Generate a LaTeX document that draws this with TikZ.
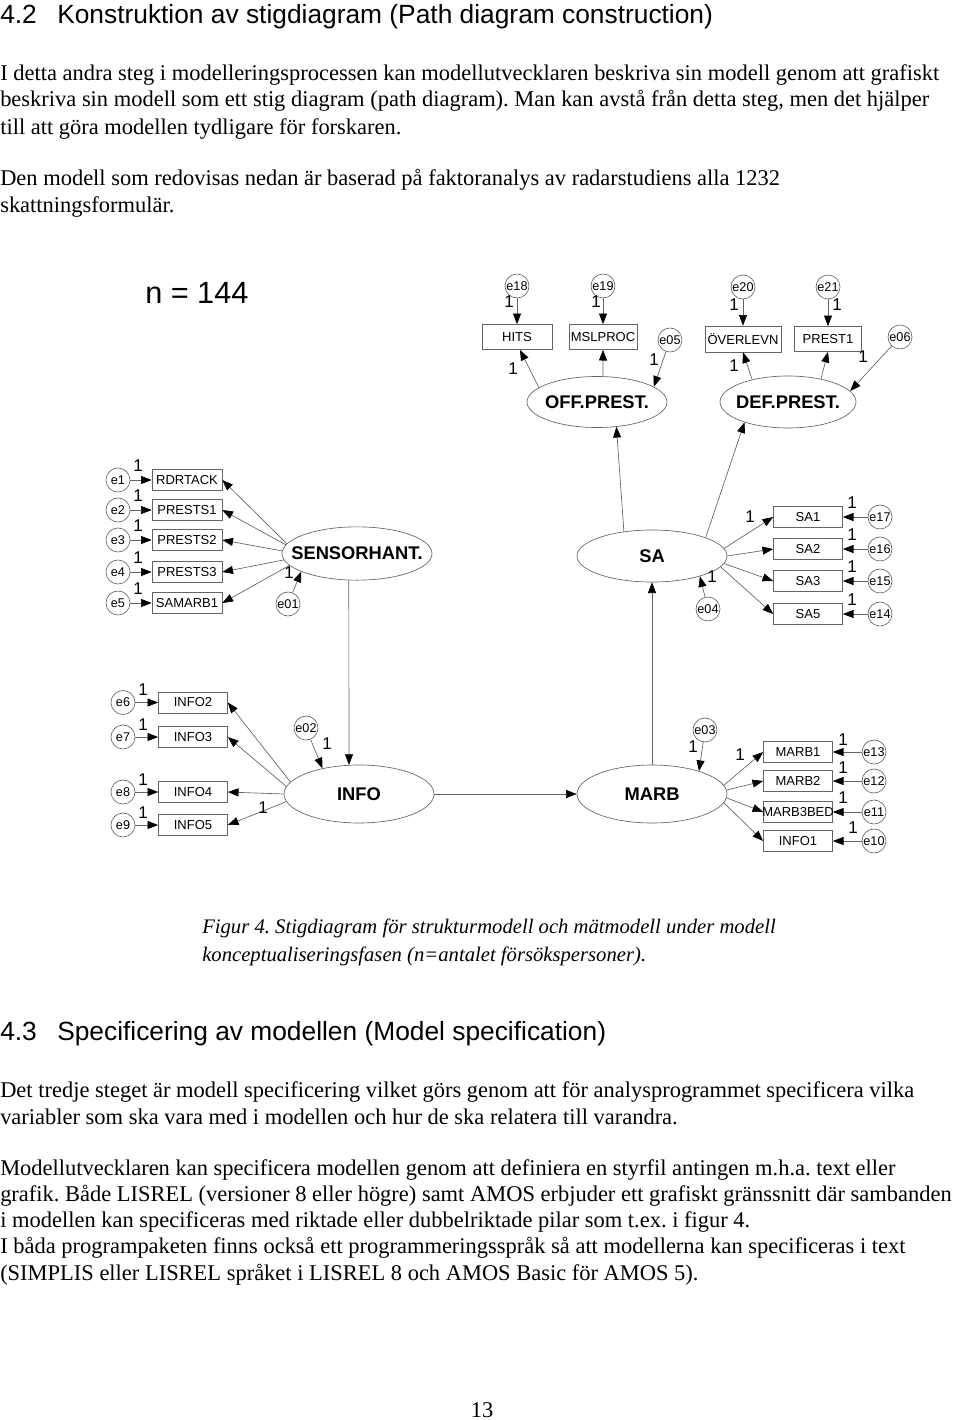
\documentclass[tikz,border=0pt]{standalone}
\usepackage{fontspec}
\setmainfont{Liberation Serif}
\setsansfont{Liberation Sans}
\usetikzlibrary{arrows.meta,shapes.geometric}
\definecolor{lc}{RGB}{100,100,100}
\newcommand\zw[1]{\makebox[0pt]{#1}}
\frenchspacing
\begin{document}
\begin{tikzpicture}[x=0.75pt,y=-0.75pt,
  ln/.style={draw=lc, line width=0.5pt},
  arr/.style={ln, -{Triangle[length=8pt,width=6pt,color=black]}},
  obs/.style={draw=lc, line width=0.5pt, rectangle, inner sep=0pt, minimum width=51.75pt, minimum height=16pt, font=\sffamily\fontsize{9.75}{10}\selectfont},
  err/.style={draw=lc, line width=0.5pt, circle, inner sep=0pt, minimum size=18pt, font=\sffamily\fontsize{9.5}{10}\selectfont},
  lat/.style={draw=lc, line width=0.5pt, ellipse, inner sep=0pt, minimum width=112.5pt, minimum height=43.5pt, font=\sffamily\bfseries\fontsize{13.75}{15}\selectfont},
  one/.style={font=\sffamily\fontsize{12.75}{13}\selectfont, inner sep=0pt},
  body/.style={anchor=base west, inner sep=0pt, font=\fontsize{16.85}{20}\selectfont},
  capt/.style={anchor=base west, inner sep=0pt, font=\itshape\fontsize{15.5}{19.5}\selectfont},
  head/.style={anchor=base west, inner sep=0pt, font=\sffamily\fontsize{19.75}{22}\selectfont},
]
\fill[white] (0,0) rectangle (960,1420);
\useasboundingbox (0,0) rectangle (960,1420);

% ---------- text ----------
\node[head] (h1a) at (0,24) {4.2};
\node[head] (h1b) at (57,24) {Konstruktion av stigdiagram (Path diagram construction)};
\node[body] (p1) at (0,80) {I detta andra steg i modelleringsprocessen kan modellutvecklaren beskriva sin modell genom att grafiskt};
\node[body] (p2) at (0,107) {beskriva sin modell som ett stig diagram (path diagram). Man kan avstå från detta steg, men det hjälper};
\node[body] (p3) at (0,134) {till att göra modellen tydligare för forskaren.};
\node[body] (p4) at (0,185) {Den modell som redovisas nedan är baserad på faktoranalys av radarstudiens alla 1232};
\node[body] (p5) at (0,212) {skattningsformulär.};
\node[capt] (c1) at (202,933) {Figur 4. Stigdiagram för strukturmodell och mätmodell under modell};
\node[capt] (c2) at (202,961) {konceptualiseringsfasen (n=antalet försökspersoner).};
\node[head] (h2a) at (0,1040) {4.3};
\node[head] (h2b) at (57,1040) {Specificering av modellen (Model specification)};
\node[body] (q1) at (0,1097) {Det tredje steget är modell specificering vilket görs genom att för analysprogrammet specificera vilka};
\node[body] (q2) at (0,1124) {variabler som ska vara med i modellen och hur de ska relatera till varandra.};
\node[body] (q3) at (0,1175) {Modellutvecklaren kan specificera modellen genom att definiera en styrfil antingen m.h.a. text eller};
\node[body] (q4) at (0,1201) {grafik. Både LISREL (versioner 8 eller högre) samt AMOS erbjuder ett grafiskt gränssnitt där sambanden};
\node[body] (q5) at (0,1227) {i modellen kan specificeras med riktade eller dubbelriktade pilar som t.ex. i figur 4.};
\node[body] (q6) at (0,1253) {I båda programpaketen finns också ett programmeringsspråk så att modellerna kan specificeras i text};
\node[body] (q7) at (0,1280) {(SIMPLIS eller LISREL språket i LISREL 8 och AMOS Basic för AMOS 5).};
\node[anchor=base, inner sep=0pt, font=\fontsize{16.85}{20}\selectfont] (pg) at (482,1417) {13};

\node[anchor=base west, inner sep=0pt, font=\sffamily\fontsize{23}{25}\selectfont] (n144) at (145,303) {n = 144};

% ---------- top ----------
\node[err] (e18) at (517,286) {\zw{e18}};
\node[err] (e19) at (603,286) {\zw{e19}};
\node[err] (e20) at (743,287) {\zw{e20}};
\node[err] (e21) at (828,287) {\zw{e21}};
\node[obs, minimum width=52.5pt, minimum height=18.75pt] (hits) at (517,337) {\zw{HITS}};
\node[obs, minimum width=51pt, minimum height=18.75pt] (msl) at (603,337) {\zw{MSLPROC}};
\node[obs, minimum width=57pt, minimum height=19.5pt] (ovr) at (743,339) {\zw{ÖVERLEVN}};
\node[obs, minimum width=50.25pt, minimum height=18.75pt] (pr1) at (828,339) {\zw{PREST1}};
\node[err] (e05) at (670,340) {\zw{e05}};
\node[err] (e06) at (900,337) {\zw{e06}};
\node[lat, minimum width=105pt, minimum height=38.25pt] (off) at (597,402) {\zw{OFF.PREST.}};
\node[lat, minimum width=102pt, minimum height=39pt] (def) at (788,402) {\zw{DEF.PREST.}};

\draw[arr] (e18) -- (hits);
\draw[arr] (e19) -- (msl);
\draw[arr] (e20) -- (ovr);
\draw[arr] (e21) -- (pr1);
\draw[arr] (off.166) -- (hits.283);
\draw[arr] (off.77) -- (msl.south);
\draw[arr] (e05) -- (off.15);
\draw[arr] (def.148) -- (ovr.south);
\draw[arr] (def.35) -- (pr1.south);
\draw[arr] (e06) -- (def.10);

\node[one] (o18) at (509,302) {1};
\node[one] (o19) at (596,302) {1};
\node[one] (o20) at (734,305) {1};
\node[one] (o21) at (837,305) {1};
\node[one] (ohits) at (513,369) {1};
\node[one] (oe05) at (654,360) {1};
\node[one] (oovr) at (734,366) {1};
\node[one] (oe06) at (863,357) {1};

% ---------- sensorhant ----------
\node[lat, minimum width=112.5pt, minimum height=40pt] (sens) at (357,553.5) {\zw{SENSORHANT.}};
\foreach \n/\t/\y in {1/RDRTACK/480, 2/PRESTS1/510, 3/PRESTS2/540, 4/PRESTS3/572, 5/SAMARB1/603}{
  \node[err] (e\n) at (118,\y) {\zw{e\n}};
  \node[obs, minimum width=52.5pt, minimum height=15.75pt] (b\n) at (187,\y) {\zw{\t}};
  \draw[arr] (e\n) -- (b\n);
  \node[one] (oe\n) at (138,\y-14.5) {1};
}
\draw[arr] (sens.172) -- (b1.east);
\draw[arr] (sens.173) -- (b2.east);
\draw[arr] (sens.178) -- (b3.east);
\draw[arr] (sens.185) -- (b4.east);
\draw[arr] (sens.190) -- (b5.east);
\node[err] (e01) at (288,604) {\zw{e01}};
\draw[arr] (e01) -- (sens.198);
\node[one] (oe01) at (289,573) {1};

% ---------- SA ----------
\node[lat, minimum width=112.5pt, minimum height=39pt] (sa) at (652,556) {\zw{SA}};
\foreach \n/\t/\e/\y in {1/SA1/e17/517, 2/SA2/e16/549, 3/SA3/e15/581, 5/SA5/e14/614}{
  \node[err] (\e) at (880,\y) {\zw{\e}};
  \node[obs, minimum width=51.75pt, minimum height=16pt] (sa\n) at (808,\y) {\zw{\t}};
  \draw[arr] (\e) -- (sa\n);
  \node[one] (o\e) at (852,\y-14) {1};
}
\draw[arr] (sa.6) -- (sa1.west);
\draw[arr] (sa.east) -- (sa2.west);
\draw[arr] (sa.354) -- (sa3.west);
\draw[arr] (sa.351) -- (sa5.west);
\node[one] (osa1) at (750,517) {1};
\node[err] (e04) at (708,609) {\zw{e04}};
\draw[arr] (e04) -- (sa.337);
\node[one] (oe04) at (712,577) {1};
\draw[arr] (sa.139) -- (off.308);
\draw[arr] (sa.19) -- (def.205);

% ---------- INFO / MARB ----------
\node[lat] (info) at (359,794) {\zw{INFO}};
\node[lat] (marb) at (652,794) {\zw{MARB}};
\draw[arr] (info) -- (marb);
\draw[arr] (marb) -- (sa);
\draw[arr] (sens.253) -- (info.109);
\node[err] (e02) at (306,728) {\zw{e02}};
\draw[arr] (e02) -- (info.145);
\node[one] (oe02) at (327,744) {1};
\node[err] (e03) at (705,730) {\zw{e03}};
\draw[arr] (e03) -- (marb.26);
\node[one] (oe03) at (693,747) {1};

\foreach \n/\t/\e/\y in {2/INFO2/e6/702.5, 3/INFO3/e7/737, 4/INFO4/e8/792, 5/INFO5/e9/825}{
  \node[err] (\e) at (123,\y) {\zw{\e}};
  \node[obs, minimum width=51.75pt, minimum height=15.75pt] (i\n) at (193,\y) {\zw{\t}};
  \draw[arr] (\e) -- (i\n);
  \node[one] (o\e) at (143,\y-12.5) {1};
}
\draw[arr] (info.170) -- (i2.east);
\draw[arr] (info.174.5) -- (i3.east);
\draw[arr] (info.west) -- (i4.east);
\draw[arr] (info.186) -- (i5.east);
\node[one] (oi5) at (263,808) {1};

\foreach \n/\t/\e/\y in {1/MARB1/e13/752, 2/MARB2/e12/781, 3/MARB3BED/e11/812, 4/INFO1/e10/841}{
  \node[err] (\e) at (874,\y) {\zw{\e}};
  \node[obs, minimum width=51.75pt, minimum height=16pt] (m\n) at (798,\y) {\zw{\t}};
  \draw[arr] (\e) -- (m\n);
}
\node[one] (oe13) at (843,740) {1};
\node[one] (oe12) at (843,768) {1};
\node[one] (oe11) at (843,798) {1};
\node[one] (oe10) at (853,828) {1};
\draw[arr] (marb.7) -- (m1.west);
\draw[arr] (marb.3) -- (m2.west);
\draw[arr] (marb.357) -- (m3.west);
\draw[arr] (marb.353) -- (m4.west);
\node[one] (om1) at (740,755) {1};
\end{tikzpicture}
\end{document}
